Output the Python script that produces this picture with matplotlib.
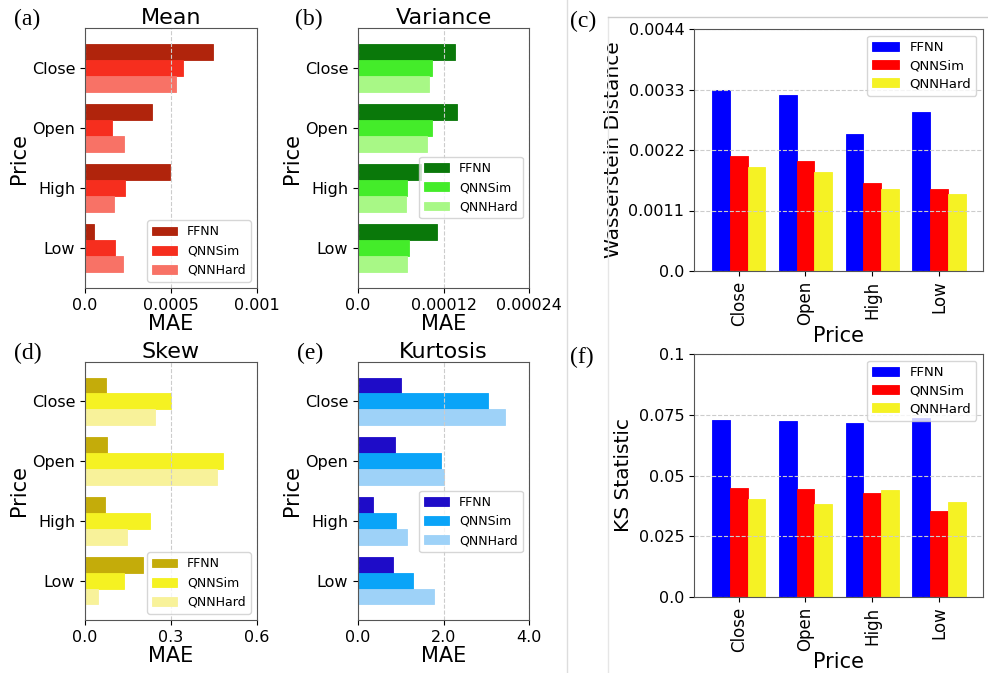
import matplotlib
matplotlib.use('Agg')
import matplotlib.pyplot as plt
from matplotlib.lines import Line2D
import numpy as np

prices = ['Close', 'Open', 'High', 'Low']
models = ['FFNN', 'QNNSim', 'QNNHard']

# MAE of the moments (order: Close, Open, High, Low)
mean_ffnn = [0.000745, 0.00039, 0.000495, 0.000052]
mean_qsim = [0.00057, 0.000157, 0.000233, 0.000177]
mean_qhard = [0.00053, 0.000227, 0.000167, 0.00022]

var_ffnn = [0.000136, 0.000139, 0.0000889, 0.000111]
var_qsim = [0.000104, 0.000104, 0.0000692, 0.0000711]
var_qhard = [0.0001, 0.0000973, 0.0000669, 0.0000683]

skew_ffnn = [0.072, 0.075, 0.069, 0.202]
skew_qsim = [0.299, 0.482, 0.226, 0.136]
skew_qhard = [0.245, 0.461, 0.147, 0.045]

kurt_ffnn = [1.01, 0.86, 0.36, 0.83]
kurt_qsim = [3.03, 1.94, 0.90, 1.29]
kurt_qhard = [3.45, 2.00, 1.15, 1.78]

# Wasserstein distance and KS statistic
wd_ffnn = [0.0033, 0.0032, 0.0025, 0.0029]
wd_qsim = [0.0021, 0.0020, 0.0016, 0.0015]
wd_qhard = [0.0019, 0.0018, 0.0015, 0.0014]

ks_ffnn = [0.0729, 0.0725, 0.0715, 0.0735]
ks_qsim = [0.0448, 0.0444, 0.0429, 0.0354]
ks_qhard = [0.0403, 0.0384, 0.0440, 0.0390]

fig = plt.figure(figsize=(9.88, 6.73), dpi=100)
W, H = 988, 673


def add_ax(l, t, r, b):
    return fig.add_axes([l / W, 1 - b / H, (r - l) / W, (b - t) / H])


def hbar_panel(ax, vals, colors, title, xticks, xlabels, legend_kw):
    y = np.arange(len(prices))
    h = 0.8 / 3
    for i, (v, c, m) in enumerate(zip(vals, colors, models)):
        ax.barh(y + (i - 1) * h, v, height=h, color=c, label=m,
                edgecolor=c, linewidth=0.6)
    ax.set_yticks(y)
    ax.set_yticklabels(prices, fontsize=11.5)
    ax.set_ylim(3.66, -0.66)
    ax.set_xlim(xticks[0], xticks[-1])
    ax.set_xticks(xticks)
    ax.set_xticklabels(xlabels, fontsize=11.5)
    ax.set_title(title, fontsize=16, pad=3)
    ax.set_xlabel('MAE', fontsize=15, labelpad=1)
    ax.set_ylabel('Price', fontsize=15, labelpad=2)
    ax.grid(axis='x', linestyle='--', color='#cccccc', linewidth=0.8)
    for s in ax.spines.values():
        s.set_color('#555555')
    ax.legend(fontsize=9, **legend_kw)


def vbar_panel(ax, vals, colors, ylabel, yticks, ylabels):
    x = np.arange(len(prices))
    w = 0.8 / 3
    for i, (v, c, m) in enumerate(zip(vals, colors, models)):
        ax.bar(x + (i - 1) * w, v, width=w, color=c, label=m,
               edgecolor=c, linewidth=0.6)
    ax.set_xticks(x)
    ax.set_xticklabels(prices, rotation=90, fontsize=12)
    ax.set_xlim(-0.67, 3.66)
    ax.set_ylim(yticks[0], yticks[-1])
    ax.set_yticks(yticks)
    ax.set_yticklabels(ylabels, fontsize=11.5)
    ax.set_xlabel('Price', fontsize=15, labelpad=0)
    ax.set_ylabel(ylabel, fontsize=14.5, labelpad=4)
    ax.grid(axis='y', linestyle='--', color='#cccccc', linewidth=0.8)
    for s in ax.spines.values():
        s.set_color('#555555')
    ax.legend(fontsize=9.5, loc='upper right', labelspacing=0.4)


reds = ['#B0240C', '#F62E1E', '#F87266']
greens = ['#0A780A', '#44EC2A', '#A8F886']
yellows = ['#C4AC0A', '#F5F222', '#F8F29A']
blues = ['#1E0CC8', '#0AA4F8', '#9ED2F8']
main = ['#0000FF', '#FF0000', '#F5F224']

ax_a = add_ax(85, 28, 257, 288)
hbar_panel(ax_a, [mean_ffnn, mean_qsim, mean_qhard], reds, 'Mean',
           [0, 0.0005, 0.001], ['0.0', '0.0005', '0.001'],
           dict(loc='lower right'))

ax_b = add_ax(358, 28, 529, 288)
hbar_panel(ax_b, [var_ffnn, var_qsim, var_qhard], greens, 'Variance',
           [0, 0.00012, 0.00024], ['0.0', '0.00012', '0.00024'],
           dict(loc='center right', bbox_to_anchor=(1.0, 0.386)))

ax_d = add_ax(85, 362, 257, 620)
hbar_panel(ax_d, [skew_ffnn, skew_qsim, skew_qhard], yellows, 'Skew',
           [0, 0.3, 0.6], ['0.0', '0.3', '0.6'],
           dict(loc='lower right'))

ax_e = add_ax(358, 362, 529, 620)
hbar_panel(ax_e, [kurt_ffnn, kurt_qsim, kurt_qhard], blues, 'Kurtosis',
           [0, 2.0, 4.0], ['0.0', '2.0', '4.0'],
           dict(loc='center right', bbox_to_anchor=(1.0, 0.382)))

ax_c = add_ax(694, 29, 983, 271)
vbar_panel(ax_c, [wd_ffnn, wd_qsim, wd_qhard], main, 'Wasserstein Distance',
           [0, 0.0011, 0.0022, 0.0033, 0.0044],
           ['0.0', '0.0011', '0.0022', '0.0033', '0.0044'])

ax_f = add_ax(694, 354, 983, 597)
vbar_panel(ax_f, [ks_ffnn, ks_qsim, ks_qhard], main, 'KS Statistic',
           [0, 0.025, 0.05, 0.075, 0.1],
           ['0.0', '0.025', '0.05', '0.075', '0.1'])

# panel letters
letters = [('(a)', 14, 30), ('(b)', 295, 30), ('(c)', 570, 32),
           ('(d)', 14, 364), ('(e)', 297, 364), ('(f)', 570, 368)]
for txt, px, py in letters:
    fig.text(px / W, 1 - py / H, txt, fontsize=17, family='Liberation Serif',
             ha='left', va='bottom')

# separators from the composed figure
fig.add_artist(Line2D([567 / W, 567 / W], [0, 1], color='#dddddd', lw=1))
fig.add_artist(Line2D([608 / W, 608 / W], [0, 1 - 17 / H], color='#e6e6e6', lw=1))
fig.add_artist(Line2D([608 / W, 1], [1 - 17 / H, 1 - 17 / H], color='#cccccc', lw=1))

plt.savefig('out.png', dpi=100)
plt.close()
